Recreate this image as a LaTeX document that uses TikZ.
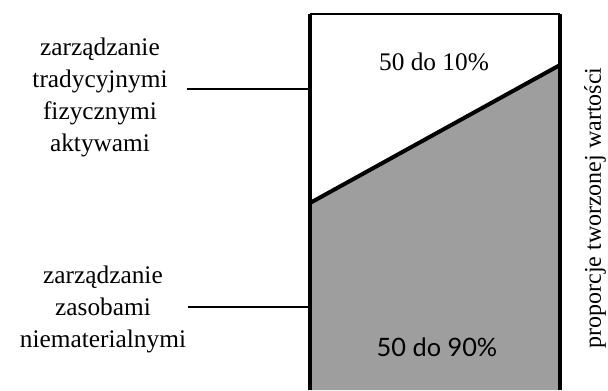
\documentclass[tikz,border=0pt]{standalone}
\usepackage{fontspec}
\setmainfont{Liberation Serif}
\setsansfont{Lato}
\tikzset{
  lbl/.style={align=center,font=\fontsize{19}{24}\selectfont},
  pct/.style={font=\fontsize{19}{24}\selectfont},
  lead/.style={line width=1.5pt}
}
\begin{document}
\begin{tikzpicture}[x=0.75pt,y=-0.75pt]
			\useasboundingbox (0,0) rectangle (608,390);
			\coordinate (tl) at (310,14);
			\coordinate (tr) at (560,14);
			\coordinate (bl) at (310,390);
			\coordinate (br) at (560,390);
			\coordinate (dl) at (310,203);
			\coordinate (dr) at (560,65);
			\fill[black!38] (dl) -- (dr) -- (br) -- (bl) -- cycle;
			\draw[line width=1.5pt] (tl) -- (tr);
			\draw[line width=3.5pt] (tl) -- (bl);
			\draw[line width=3.5pt] (tr) -- (br);
			\draw[line width=3pt] (dl) -- (dr);
			\node[pct] (low) at (434,62) {50 do 10\%};
			\node[pct,font=\fontsize{19}{24}\selectfont\sffamily] (high) at (437,347) {50 do 90\%};
			\node[lbl] (trad) at (100,97) {zarządzanie\\tradycyjnymi\\fizycznymi\\aktywami};
			\node[lbl] (intang) at (103,309) {zarządzanie\\zasobami\\niematerialnymi};
			\node[lbl,rotate=90,font=\fontsize{18}{22}\selectfont] (axis) at (595,208) {proporcje tworzonej wartości};
			\coordinate (a1) at (187,89);
			\coordinate (a2) at (188,307);
			\draw[lead] (a1) -- (a1 -| tl);
			\draw[lead] (a2) -- (a2 -| tl);
		\end{tikzpicture}
\end{document}
